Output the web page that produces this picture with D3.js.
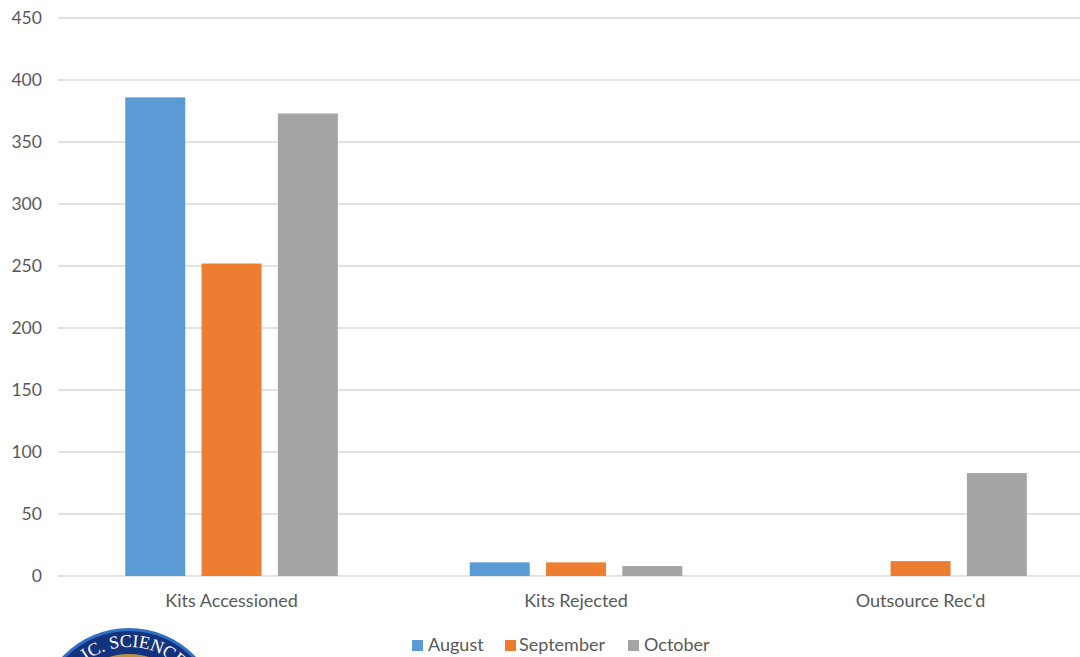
<!DOCTYPE html>
<html>
<head>
<meta charset="utf-8">
<script src="https://cdnjs.cloudflare.com/ajax/libs/d3/7.8.5/d3.min.js"></script>
<style>
  html, body { margin: 0; padding: 0; background: #fff; }
  svg { display: block; }
  text { font-family: Lato, "Open Sans", sans-serif; fill: #595959; }
</style>
</head>
<body>
<svg id="chart"></svg>
<script>
const categories = ["Kits Accessioned", "Kits Rejected", "Outsource Rec'd"];
const months = ["August", "September", "October"];
const august = [386, 11, null];
const september = [252, 11, 12];
const october = [373, 8, 83];
const yTicks = [0, 50, 100, 150, 200, 250, 300, 350, 400, 450];
const colors = ["#5B9BD5", "#ED7D31", "#A5A5A5"];

const width = 1080;
const height = 657;
const svg = d3.select("#chart").attr("width", width).attr("height", height);

const y = d3.scaleLinear().domain([0, 450]).range([576, 18]);
// last band runs past the right edge of the picture, same as the original crop
const x = d3.scaleBand().domain(categories).range([59.3, 1092.8]);
const xMonth = d3.scaleBand().domain(months).range([0, x.bandwidth()])
  .paddingInner(0.214).paddingOuter(0.8645);
const color = d3.scaleOrdinal().domain(months).range(colors);

// grid
svg.append("g")
  .selectAll("line")
  .data(yTicks)
  .enter()
  .append("line")
  .attr("x1", 58)
  .attr("x2", width)
  .attr("y1", (d) => y(d))
  .attr("y2", (d) => y(d))
  .style("stroke", "#D9D9D9")
  .style("stroke-width", 1.4);

svg.append("g")
  .selectAll("text")
  .data(yTicks)
  .enter()
  .append("text")
  .attr("x", 42)
  .attr("y", (d) => y(d) + 6)
  .style("text-anchor", "end")
  .style("font-size", "17.6px")
  .text((d) => d);

// bars
const seriesRows = [august, september, october];
months.forEach((m, i) => {
  svg.append("g")
    .selectAll("rect")
    .data(seriesRows[i].map((v, j) => ({ cat: categories[j], v })).filter((d) => d.v !== null))
    .enter()
    .append("rect")
    .attr("x", (d) => x(d.cat) + xMonth(m))
    .attr("y", (d) => y(d.v))
    .attr("width", xMonth.bandwidth())
    .attr("height", (d) => y(0) - y(d.v))
    .style("fill", color(m));
});

// category labels
svg.append("g")
  .selectAll("text")
  .data(categories)
  .enter()
  .append("text")
  .attr("x", (d) => x(d) + x.bandwidth() / 2)
  .attr("y", 606.5)
  .style("text-anchor", "middle")
  .style("font-size", "18px")
  .text((d) => d);

// legend
const legendX = [412, 505, 628];
const legend = svg.append("g")
  .selectAll("g")
  .data(months)
  .enter()
  .append("g")
  .attr("transform", (d, i) => `translate(${legendX[i]},640)`);
legend.append("rect")
  .attr("width", 11)
  .attr("height", 11)
  .style("fill", (d) => color(d));
legend.append("text")
  .attr("x", (d, i) => (i === 1 ? 14 : 16))
  .attr("y", 11)
  .style("font-size", "18px")
  .text((d) => d);

// seal at the bottom left, only the top of it is in frame
const logo = svg.append("g").attr("transform", "translate(129,720)");
logo.append("circle").attr("r", 92).style("fill", "#2F6FC4");
logo.append("circle").attr("r", 89).style("fill", "#14337F");
logo.append("circle").attr("r", 66).style("fill", "#B8923F");
logo.append("path")
  .attr("id", "sealArc")
  .attr("d", d3.arc()({ innerRadius: 73, outerRadius: 73, startAngle: -1.0, endAngle: 1.14 }))
  .style("fill", "none");
logo.append("text")
  .append("textPath")
  .attr("href", "#sealArc")
  .attr("startOffset", "25%")
  .style("text-anchor", "middle")
  .style("font-family", "'Liberation Serif', serif")
  .style("font-size", "18px")
  .style("fill", "#fff")
  .text("IC. SCIENCE");
</script>
</body>
</html>
